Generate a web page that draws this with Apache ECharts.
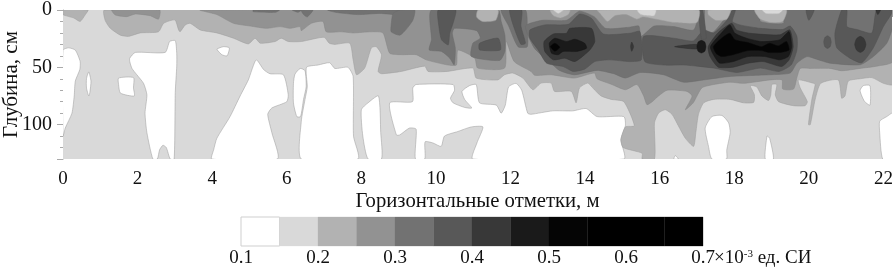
<!DOCTYPE html>
<html><head><meta charset="utf-8">
<script src="https://cdn.jsdelivr.net/npm/echarts@6/dist/echarts.min.js"></script>
<style>html,body{margin:0;background:#fff}#c{width:896px;height:270px}</style></head>
<body><div id="c"></div>
<script>
// Contour regions: each point is [horizontal mark in m, depth in cm]
var level015 = [[[0,0],[22.25,0],[22.25,130],[0,130]]];
var level010 = [
 [[0,35],[.15,33],[.33,35],[.46,45],[.45,52],[.33,62],[.3,75],[.24,90],[.06,103],[0,110]],
 [[.69,54],[.75,62],[.72,72],[.69,75],[.63,68],[.63,60]],
 [[1.49,59.4],[1.89,59],[1.89,68],[1.91,75],[1.54,72.5],[1.49,65]],
 [[1.79,42],[1.94,37],[2.74,37],[2.86,27.5],[3.01,26.7],[3.05,38],[3.05,49],[3.01,72],[2.98,130],[2.875,130],[2.77,120],[2.68,118],[2.59,122],[2.53,130],[2.41,130],[2.25,107],[2.2,90],[2.25,74],[2.16,64],[1.98,56.5],[1.85,51],[1.79,45]],
 [[4.13,34],[4.3,32],[4.46,33],[4.4,40],[4.26,39],[4.14,35]],
 [[5.18,43.5],[5.38,52],[5.55,55.6],[5.91,56.5],[6.04,74],[6,80],[5.6,85.5],[5.49,91],[5.6,107],[5.75,130],[3.99,130],[4.04,122],[4.125,112],[4.48,93],[4.75,75],[4.97,61]],
 [[6.18,64],[6.22,56],[6.36,51],[6.49,53],[6.52,67],[6.45,78],[6.37,93],[6.27,93],[6.18,81]],
 [[6.53,50],[6.84,48],[7.15,46],[7.29,51],[7.64,50],[7.78,58],[7.79,110],[7.91,130],[6.39,130],[6.39,97],[6.49,78],[6.55,67]],
 [[8,87],[8.18,81],[8.46,75],[8.52,107],[8.54,130],[8.18,130],[8.04,110]],
 [[8.76,81],[9.37,80],[9.38,68],[9.47,65],[10.46,65],[10.5,70],[10.39,77],[10.46,81],[10.77,85],[10.96,85.5],[10.77,78],[10.7,71],[10.9,66],[11.08,65],[11.17,81],[11.62,83],[11.75,90],[11.86,83],[11.95,67],[12.15,64],[12.3,70],[12.46,90],[12.55,91],[13.13,88],[13.67,88],[14.03,86],[14.32,93],[15.04,93],[15.08,101],[14.96,113],[15.04,130],[10.99,130],[11.1,116],[11.26,102],[10.95,102],[10.59,106],[10.23,110],[10.14,119],[9.92,116],[9.71,115],[9.7,130],[9.45,130],[9.47,104],[9.29,103],[9.03,109],[8.94,109]],
 [[17.22,103],[17.4,93],[17.67,92],[17.85,98.5],[17.89,107],[17.8,122],[17.79,130],[17.4,130],[17.31,119]],
 [[18.83,130],[18.88,110],[18.95,112],[19.05,130]],
 [[21.375,70],[21.46,66],[21.64,66],[21.64,83],[21.5,80],[21.42,75]],
 [[21.98,130],[21.9,107],[21.9,97],[22.09,93],[22.25,90],[22.25,130]],
 [[16.38,130],[16.42,127],[16.5,130]]
];
var level020 = [
 [[0,0],[0,4],[.29,7],[.46,10],[.6,4],[.67,0]],
 [[1.11,0],[1.13,9],[1.27,16],[1.54,22],[1.76,23],[2.07,20],[2.56,19],[2.7,11.6],[3,8.7],[3.1,17.4],[3.14,19],[3.28,13],[3.41,11.6],[3.68,17.4],[4.125,20],[4.57,24.6],[4.97,29.6],[5.15,24.6],[5.29,29],[5.69,27.5],[5.85,24.6],[6.04,27.5],[6.39,27.5],[7,23.8],[7.14,29],[7.29,30],[7.69,29],[7.78,43.5],[7.87,56.5],[8.09,50.7],[8.27,33],[8.4,32],[8.54,39],[8.45,53.6],[8.54,55.6],[9.07,53.6],[9.7,49],[9.79,53.6],[10.3,53.6],[10.99,50.7],[11.08,59.4],[11.66,61],[11.84,56.5],[12.06,55],[12.33,59.4],[12.6,69.6],[12.82,63.8],[13.09,63.8],[13.18,71],[13.63,71],[13.76,81],[13.85,68],[14.07,63.8],[14.25,69.6],[14.43,75],[14.7,78],[15.04,80],[15.32,101],[15.08,102],[14.96,113],[15.02,120],[15.53,125],[15.53,130],[15.86,130],[15.86,98.5],[15.97,90],[16.15,87],[16.33,91],[16.5,101],[16.69,112],[16.91,119],[16.97,107],[17.04,91],[17.18,81],[17.45,78],[17.89,78],[18.25,81],[18.52,80.6],[18.54,74],[18.43,66],[18.6,67],[18.74,75],[18.92,79],[18.98,74],[19.01,65],[19.14,65],[19.1,74],[19.19,80],[19.59,83.5],[19.9,83.5],[19.96,80],[19.77,68],[19.72,61],[20.13,64],[20.17,65],[20.08,78],[19.99,100],[20.04,100],[20.17,78],[20.32,64],[20.79,61],[20.88,77],[20.97,75],[21.06,62],[21.375,60],[21.69,59],[22,64],[22.25,65],[22.25,0]]
];
var level025 = [
 [[1.31,0],[1.4,4.3],[1.71,5.8],[1.94,3.5],[2.34,5],[2.56,8],[2.59,0]],
 [[3.68,0],[4.125,4],[4.57,11.6],[5.02,14],[5.46,16],[5.82,14.5],[6.09,16],[6.36,14.5],[6.39,18],[6.66,11.6],[6.97,10],[7.06,19],[7.46,19],[7.78,20],[8.27,19],[8.58,20],[8.76,37.7],[9.07,39],[9.47,39],[9.74,43.5],[10.32,48],[10.55,48],[10.59,35],[11.04,42],[11.12,50.7],[11.84,50.7],[11.88,27],[12.1,45],[12.55,53.6],[12.65,57],[13.09,56.5],[13.71,59.4],[14.25,55],[14.32,60],[14.72,65],[15.08,69.6],[15.39,65],[15.57,75],[15.66,82.6],[15.8,80],[15.97,75],[16.2,70],[16.73,71],[16.87,75],[16.69,87],[16.9,81],[17.13,68],[17.45,65],[17.89,63],[18.25,64],[18.96,61],[19.28,61],[19.3,69],[19.59,69],[19.68,59],[19.77,51],[20.04,51],[20.57,51],[20.88,53],[21.37,51],[21.82,49],[22.25,45],[22.25,0]]
];
var level030 = [
 [[5.1,0],[5.1,1.5],[5.7,2],[5.8,0]],
 [[6.15,0],[6.3,2],[6.39,0]],
 [[6.39,0],[6.45,4],[6.55,6],[6.7,0]],
 [[7.1,0],[7.3,2],[7.9,4],[8.5,3],[9,4],[9.07,0]],
 [[9.03,0],[8.85,3],[8.8,13],[8.8,19],[9.03,22],[9.2,17],[9.38,9],[9.43,0]],
 [[9.88,0],[9.88,26],[9.82,34.8],[10.15,36.2],[10.37,42],[10.49,47.8],[10.52,33.3],[10.44,20.3],[10.5,16],[11.09,18],[11.19,24.6],[10.99,29],[10.95,40.6],[11.71,44],[11.85,36],[11.85,22],[11.75,10],[11.67,0]],
 [[11.75,0],[11.95,14],[12.2,32],[12.45,32],[12.45,15],[12.4,0]],
 [[12.4,14],[12.85,9],[13.5,9],[13.85,1],[14.25,6],[14.55,16],[15.2,15],[15.44,14],[15.5,23],[15.85,14],[16.38,14.5],[16.91,17.4],[17.09,0],[17.2,0],[17.2,20],[17.45,19],[17.9,1.5],[18.03,0],[18.7,0],[18.7,10],[19.32,11.6],[19.32,0],[22.25,0],[22.25,14.5],[22.09,29],[21.73,40.6],[21.375,47.8],[20.57,46.4],[20.21,43],[19.95,40.6],[19.68,46.4],[19.5,55],[18.96,56.5],[17.89,58],[17.18,61],[16.64,63],[16.1,56.5],[15.48,54.5],[15.08,59.4],[14.77,55.6],[14.32,52.7],[13.71,56.5],[13.31,52.7],[13.04,45],[12.64,33.3]]
];
var level035 = [
 [[10.06,0],[10.08,14.5],[10.15,26],[10.33,30.4],[10.37,20.3],[10.46,11.6],[10.53,0]],
 [[11.17,29],[11.67,24.6],[11.73,34.8],[11.17,34.8]],
 [[11.98,0],[12.08,14],[12.28,30],[12.4,29],[12.28,14],[12.3,0]],
 [[12.52,17.4],[12.92,13],[13.55,12.5],[13.86,3.5],[14.17,7.2],[14.49,20.9],[15.2,20.3],[15.47,18.8],[15.51,43.5],[15.2,45],[14.66,43.5],[14.26,45],[13.99,51.6],[13.68,53.6],[13.41,49.3],[12.97,46.4],[12.74,34.8],[12.52,24.6]],
 [[15.57,23],[16.375,24.6],[16.9,27],[17.1,20],[17.2,17.4],[17.45,20],[17.8,9],[17.92,1],[18.03,0],[17.95,10],[18.15,13],[18.7,16],[19.3,17],[19.5,14],[19.68,23],[19.68,35],[19.53,47.8],[19.2,53.6],[18.7,50.7],[18.07,54.5],[17.45,50.7],[17,49],[16.64,48],[16.1,48],[15.6,45]],
 [[17.05,0],[17.15,0],[17.25,25],[17.12,25]],
 [[20.4,28],[20.43,24],[20.5,22.5],[20.57,24],[20.6,28],[20.57,32],[20.5,33.5],[20.43,32]],
 [[19.93,0],[20,9],[20.14,0]],
 [[20.88,0],[20.7,20],[20.75,33],[21.1,42],[21.42,46],[21.73,33],[22,14.5],[22.22,3],[22.22,0],[21.82,0],[21.69,20],[21.29,17],[21.02,14.5],[21.02,0]]
];
var level040 = [
 [[12.9,27.5],[13.15,20.9],[13.5,20.3],[13.59,16],[14.17,16],[14.26,27.5],[14.13,34.8],[13.73,45],[13.46,42],[13.15,43.5],[12.92,36.2]],
 [[17.3,32],[17.57,19.7],[17.93,11.6],[18.06,17.4],[18.42,20.3],[19.22,21.7],[19.49,17.4],[19.58,32],[19.47,43.5],[19.27,49.3],[18.78,45],[18.37,46.4],[17.97,49.9],[17.57,49.9],[17.35,40.6]],
 [[16.4,32],[17,30],[17,34]],
 [[15.22,32],[15.25,28],[15.3,32],[15.25,36]],
 [[21.23,30],[21.28,25],[21.38,23],[21.48,25],[21.53,30],[21.48,35],[21.38,37],[21.28,35]],
 [[21.8,0],[21.85,4],[21.92,0]]
];
var level045 = [
 [[13.04,29],[13.19,24.6],[13.5,27.5],[13.73,25.5],[13.99,29],[14.04,33.3],[13.77,36.2],[13.41,36.2],[13.28,39],[13.1,37.7]],
 [[17.36,32],[17.61,21.7],[17.88,13],[18.02,20.3],[18.33,24.6],[18.73,27.5],[19.22,26],[19.47,18.8],[19.54,32],[19.45,40.6],[19.22,43.5],[18.82,40.6],[18.37,40.6],[17.97,45],[17.61,46.4],[17.44,39]],
 [[17,32],[17.03,28],[17.12,26.5],[17.21,28],[17.24,32],[17.21,36],[17.12,37.5],[17.03,36]]
];
var level050 = [
 [[13.07,31.9],[13.19,29],[13.32,32.5],[13.19,36]],
 [[17.44,31.9],[17.66,24.6],[17.88,20.3],[18.02,26],[18.37,28.4],[18.73,32],[18.95,29],[19.18,31.3],[19.4,27.5],[19.47,34.8],[19.22,37],[18.91,37],[18.73,35.4],[18.37,35.4],[17.97,39],[17.66,40.6],[17.51,37.7]]
];
// Lighter patches that open at the top edge of the section
var topCaps020 = [
 [[11.13,0],[11.09,6],[11.25,10],[11.6,9],[11.67,0]],
 [[13.06,0],[13.15,5],[13.35,7],[13.55,4],[13.6,0]],
 [[14.32,0],[14.4,3],[14.6,10],[14.8,5],[15.1,4],[15.38,8],[15.55,6],[15.9,8],[16.4,11],[17,11],[17.05,0]],
 [[17.3,0],[17.3,4],[17.5,9],[17.8,8],[17.9,0]],
 [[18.55,0],[18.7,8],[19,11],[19.3,10],[19.4,0]]
];
var topCaps015 = [
 [[13.15,0],[13.28,3],[13.42,0]],
 [[15.4,0],[15.5,4],[15.85,5],[15.9,0]],
 [[18.75,0],[18.85,3],[19.2,3],[19.3,0]]
];
var layers = [
 [level015,'#d9d9d9','#d9d9d9'],[level010,'#ffffff','#999999'],[level020,'#b2b2b2','#9a9a9a'],[level025,'#929292','#858585'],
 [level030,'#727272','#6a6a6a'],[level035,'#585858','#505050'],[level040,'#383838','#303030'],[level045,'#1a1a1a','#161616'],[level050,'#050505','#0a0a0a'],
 [topCaps020,'#b2b2b2','#9a9a9a'],[topCaps015,'#d9d9d9','#c0c0c0']
];
var legendBreaks = [.1,.15,.2,.25,.3,.35,.4,.45,.5,.55,.6,.65,.7];
var legendColors = ['#ffffff','#d9d9d9','#b2b2b2','#929292','#727272','#585858','#383838','#1a1a1a','#050505','#000000','#000000','#000000'];
var xTitle = 'Горизонтальные отметки, м';
var yTitle = 'Глубина, см';
var serif = '"Liberation Serif"';

function polySeries(polys, color, edge, rounding){
  return {type:'custom',coordinateSystem:'cartesian2d',xAxisIndex:0,yAxisIndex:0,clip:true,silent:true,
    data:polys.map(function(p){return p[0];}),
    renderItem:function(params,api){
      var pts=polys[params.dataIndex].map(function(q){return api.coord(q);});
      return {type:'polygon',shape:{points:pts,smooth:rounding},style:{fill:color,stroke:edge,lineWidth:.5}};
    }};
}
var series = layers.map(function(l,i){return polySeries(l[0],l[1],l[2],i==0?0:.2);});
series.push({type:'custom',coordinateSystem:'cartesian2d',xAxisIndex:1,yAxisIndex:2,silent:true,
  data:legendColors.map(function(c,i){return [legendBreaks[i],legendBreaks[i+1]];}),
  renderItem:function(params,api){
    var a=api.coord([api.value(0),1]), b=api.coord([api.value(1),0]);
    return {type:'rect',shape:{x:a[0],y:a[1],width:b[0]-a[0],height:b[1]-a[1]},
      style:{fill:legendColors[params.dataIndex],stroke:params.dataIndex==0?'#cfcfcf':legendColors[params.dataIndex],lineWidth:params.dataIndex==0?1:.3}};
  },encode:{x:[0,1]}});

var chart = echarts.init(document.getElementById('c'),null,{renderer:'canvas'});
chart.setOption({
  animation:false,backgroundColor:'#fff',
  grid:[{left:63,top:10,width:829,height:149,outerBoundsMode:'none'},{left:241,top:217,width:462,height:29,outerBoundsMode:'none'}],
  xAxis:[
   {gridIndex:0,type:'value',min:0,max:22.23,interval:2,position:'bottom',
    name:xTitle,nameLocation:'middle',nameGap:32,nameMoveOverlap:false,nameTextStyle:{fontFamily:serif,fontSize:20.7,color:'#111'},
    axisLine:{lineStyle:{color:'#aaa',width:1}},axisTick:{length:7,lineStyle:{color:'#aaa'}},
    minorTick:{show:true,splitNumber:5,length:4,lineStyle:{color:'#aaa'}},splitLine:{show:false},
    axisLabel:{fontFamily:serif,fontSize:19,color:'#111',margin:11,showMaxLabel:false}},
   {gridIndex:1,type:'value',min:.1,max:.7,interval:.1,position:'bottom',
    name:'×10{s|-3} ед. СИ',nameLocation:'end',nameGap:11,nameMoveOverlap:false,
    nameTextStyle:{fontFamily:serif,fontSize:19,color:'#111',verticalAlign:'top',padding:[3,0,0,0],
      rich:{s:{fontFamily:serif,fontSize:11,color:'#111',verticalAlign:'top',padding:[0,0,6,0]}}},
    axisLine:{show:false},axisTick:{show:false},splitLine:{show:false},
    axisLabel:{fontFamily:serif,fontSize:19,color:'#111',margin:3,formatter:function(v){return v.toFixed(1);}}}
  ],
  yAxis:[
   {gridIndex:0,type:'value',inverse:true,min:0,max:130,interval:50,
    name:yTitle,nameLocation:'middle',nameGap:41,nameRotate:90,nameMoveOverlap:false,nameTextStyle:{fontFamily:serif,fontSize:21,color:'#111'},
    axisLine:{show:true,lineStyle:{color:'#aaa'}},axisTick:{length:6,lineStyle:{color:'#aaa'}},
    minorTick:{show:true,splitNumber:5,length:3,lineStyle:{color:'#aaa'}},splitLine:{show:false},
    axisLabel:{fontFamily:serif,fontSize:20,color:'#111',margin:11,showMaxLabel:false}},
   {gridIndex:0,type:'value',min:0,max:1,show:false},
   {gridIndex:1,type:'value',min:0,max:1,show:false}
  ],
  series:series
});
</script></body></html>
